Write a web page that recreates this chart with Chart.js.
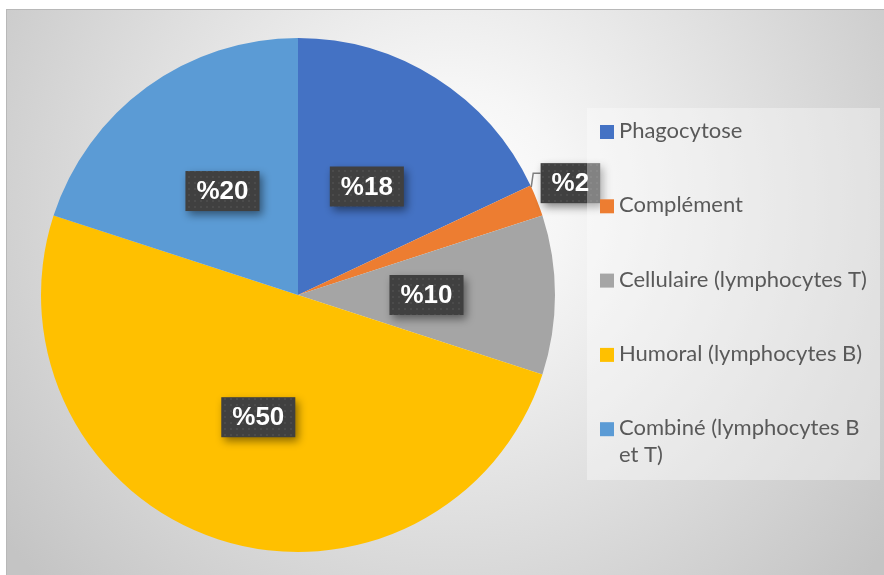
<!DOCTYPE html>
<html>
<head>
<meta charset="utf-8">
<script src="https://cdn.jsdelivr.net/npm/chart.js@4.4.1/dist/chart.umd.min.js"></script>
<style>
  html, body { margin: 0; padding: 0; background: #fff; }
  #wrap { width: 884px; height: 575px; }
</style>
</head>
<body>
<div id="wrap"><canvas id="myChart"></canvas></div>
<script>
const categories = ["Phagocytose", "Complément", "Cellulaire (lymphocytes T)", "Humoral (lymphocytes B)", "Combiné (lymphocytes B et T)"];
// legend text as it wraps in the picture
const legendLines = [["Phagocytose"], ["Complément"], ["Cellulaire (lymphocytes T)"], ["Humoral (lymphocytes B)"], ["Combiné (lymphocytes B", "et T)"]];
const percentages = [18, 2, 10, 50, 20];
const sliceColors = ["#4472C4", "#ED7D31", "#A5A5A5", "#FFC000", "#5B9BD5"];

const labelFont = "bold 26px 'Liberation Sans', Arial, sans-serif";
const legendFont = "22px Lato, 'Open Sans', sans-serif";

// dotted dark fill used by the data labels
const patCanvas = document.createElement("canvas");
patCanvas.width = 6;
patCanvas.height = 6;
const pctx = patCanvas.getContext("2d");
pctx.fillStyle = "#404040";
pctx.fillRect(0, 0, 6, 6);
pctx.fillStyle = "#4b4b4b";
pctx.fillRect(2, 2, 2, 2);

const backgroundPlugin = {
  id: "bgPanel",
  beforeDraw(chart) {
    const c = chart.ctx;
    const w = chart.width, h = chart.height;
    c.save();
    c.fillStyle = "#fff";
    c.fillRect(0, 0, w, h);
    const g = c.createRadialGradient(450, 200, 0, 450, 200, 560);
    g.addColorStop(0, "#ffffff");
    g.addColorStop(0.2, "#f6f6f6");
    g.addColorStop(1, "#c4c4c4");
    c.fillStyle = g;
    c.fillRect(6, 9, w - 6, h - 9);
    c.strokeStyle = "#b8b8b8";
    c.lineWidth = 1;
    c.strokeRect(6.5, 9.5, w, h);
    c.restore();
  }
};

function legendRect(chart) {
  const x = chart.chartArea.right + 32;
  const y = chart.chartArea.top + 70;
  return { x: x, y: y, w: chart.width - 4 - x, h: 372 };
}

const labelPlugin = {
  id: "sliceLabels",
  afterDatasetsDraw(chart) {
    const c = chart.ctx;
    const meta = chart.getDatasetMeta(0);
    const values = chart.data.datasets[0].data;
    const boxes = [];
    c.save();
    c.font = labelFont;
    meta.data.forEach((arc, i) => {
      const p = arc.getProps(["x", "y", "startAngle", "endAngle", "outerRadius"], true);
      const mid = (p.startAngle + p.endAngle) / 2;
      const text = "%" + values[i];
      const tw = c.measureText(text).width;
      const bw = tw + 22, bh = 40;
      let cx, cy;
      if (values[i] >= 5) {
        cx = p.x + Math.cos(mid) * p.outerRadius * 0.5;
        cy = p.y + Math.sin(mid) * p.outerRadius * 0.5;
      } else {
        cx = p.x + Math.cos(mid) * p.outerRadius * 1.14;
        cy = p.y + Math.sin(mid) * p.outerRadius * 1.14 - 4;
        // leader line
        const a0 = p.startAngle + (p.endAngle - p.startAngle) * 0.05;
        const sx = p.x + Math.cos(a0) * p.outerRadius;
        const sy = p.y + Math.sin(a0) * p.outerRadius;
        c.strokeStyle = "#7f7f7f";
        c.lineWidth = 1.5;
        c.beginPath();
        c.moveTo(sx, sy);
        c.lineTo(sx + 2, cy - 10);
        c.lineTo(cx - bw / 2, cy - 10);
        c.stroke();
      }
      boxes.push({ text: text, x: cx - bw / 2, y: cy - bh / 2, w: bw, h: bh, cx: cx, cy: cy });
    });
    boxes.forEach((b) => {
      c.save();
      c.shadowColor = "rgba(0,0,0,0.45)";
      c.shadowBlur = 8;
      c.shadowOffsetX = 3;
      c.shadowOffsetY = 4;
      c.fillStyle = c.createPattern(patCanvas, "repeat");
      c.fillRect(b.x, b.y, b.w, b.h);
      c.restore();
    });

    // legend panel, drawn over the boxes like in the picture
    const r = legendRect(chart);
    c.fillStyle = "rgba(255,255,255,0.35)";
    c.fillRect(r.x, r.y, r.w, r.h);

    c.fillStyle = "#fff";
    c.textAlign = "center";
    c.textBaseline = "middle";
    boxes.forEach((b) => {
      c.fillText(b.text, b.cx, b.cy + 1);
    });

    // legend items
    c.font = legendFont;
    c.textAlign = "left";
    legendLines.forEach((lines, i) => {
      const ty = r.y + 23 + i * 74.3;
      c.fillStyle = sliceColors[i];
      c.fillRect(r.x + 13, ty - 6, 14, 14);
      c.fillStyle = "#595959";
      lines.forEach((ln, k) => {
        c.fillText(ln, r.x + 32, ty + k * 27);
      });
    });
    c.restore();
  }
};

const ctx = document.getElementById("myChart");
const myChart = new Chart(ctx, {
  type: "pie",
  data: {
    labels: categories,
    datasets: [
      {
        data: percentages,
        backgroundColor: sliceColors,
        borderWidth: 0,
      },
    ],
  },
  options: {
    responsive: true,
    maintainAspectRatio: false,
    animation: false,
    layout: {
      padding: { left: 41, top: 38, right: 329, bottom: 23 },
    },
    plugins: {
      legend: { display: false },
      tooltip: { enabled: false },
    },
  },
  plugins: [backgroundPlugin, labelPlugin],
});
</script>
</body>
</html>
